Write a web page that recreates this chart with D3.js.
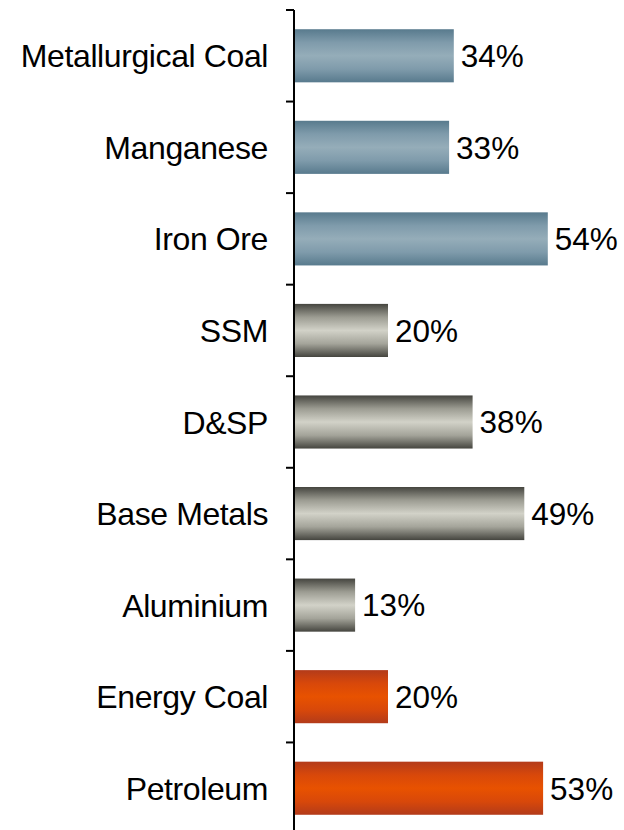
<!DOCTYPE html>
<html><head><meta charset="utf-8">
<script src="https://cdn.jsdelivr.net/npm/d3@7"></script>
<style>body{margin:0;background:#fff}svg{display:block}text{font-family:"Liberation Sans",Arial,sans-serif}</style>
</head><body>
<svg id="c" width="624" height="830"></svg>
<script>
const categories = ["Metallurgical Coal","Manganese","Iron Ore","SSM","D&SP","Base Metals","Aluminium","Energy Coal","Petroleum"];
const values = [34,33,54,20,38,49,13,20,53];
const groups = ["blue","blue","blue","gray","gray","gray","gray","orange","orange"];

const svg = d3.select("#c");
const x = d3.scaleLinear().domain([0,70]).range([294,623]);
const y = d3.scaleBand().domain(categories).range([10,834]).paddingInner(0.42).paddingOuter(0.21);

const defs = svg.append("defs");
const grads = {
  blue: ["#587a8d","#7f9bab","#95adb9","#7f9bab","#587a8d"],
  gray: ["#45453f","#9c9c92","#d2d2c8","#a4a49a","#45453f"],
  orange: ["#b33b1a","#d8480a","#e85200","#d8480a","#b33b1a"]
};
Object.entries(grads).forEach(([k,c])=>{
  const g = defs.append("linearGradient").attr("id","g-"+k).attr("x1",0).attr("x2",0).attr("y1",0).attr("y2",1);
  const offs=[0,0.25,0.5,0.75,1];
  c.forEach((col,i)=>g.append("stop").attr("offset",offs[i]).attr("stop-color",col));
});

svg.selectAll("rect.bar").data(categories).join("rect").attr("class","bar")
  .attr("x",x(0)).attr("y",d=>y(d)).attr("height",y.bandwidth())
  .attr("width",(d,i)=>x(values[i])-x(0))
  .attr("fill",(d,i)=>`url(#g-${groups[i]})`);

svg.selectAll("text.val").data(categories).join("text").attr("class","val")
  .attr("x",(d,i)=>x(values[i])+7).attr("y",d=>y(d)+y.bandwidth()/2)
  .attr("dy","0.36em").attr("font-size",31.5).attr("fill","#000")
  .text((d,i)=>values[i]+"%");

svg.selectAll("text.cat").data(categories).join("text").attr("class","cat")
  .attr("x",268).attr("y",d=>y(d)+y.bandwidth()/2)
  .attr("dy","0.36em").attr("text-anchor","end").attr("font-size",32)
  .attr("letter-spacing",-0.4).attr("fill","#000")
  .text(d=>d);

// axis
const step = y.step();
const ticks = d3.range(categories.length+1).map(i=>10+i*step);
svg.append("line").attr("x1",294).attr("x2",294).attr("y1",10).attr("y2",830).attr("stroke","#000").attr("stroke-width",2);
svg.selectAll("line.tick").data(ticks).join("line").attr("class","tick")
  .attr("x1",286).attr("x2",294).attr("y1",d=>d).attr("y2",d=>d).attr("stroke","#000").attr("stroke-width",2);
</script>
</body></html>
